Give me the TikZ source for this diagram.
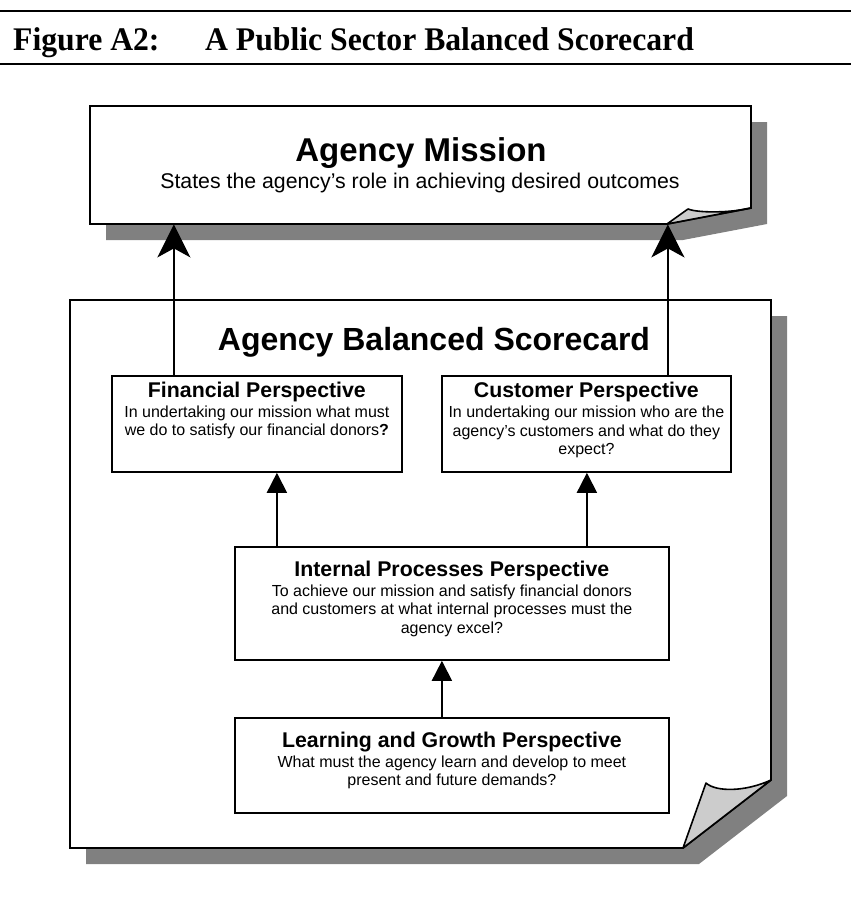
\documentclass[tikz,border=0pt]{standalone}
\usepackage{fontspec}
\setmainfont{Liberation Sans}
\newfontfamily\captionserif[FakeStretch=0.96]{Liberation Serif}
\usetikzlibrary{arrows.meta,positioning}

\definecolor{shadowgray}{HTML}{808080}
\definecolor{flapgray}{HTML}{CCCCCC}

\newcommand{\persptext}[2]{\leftskip=0pt plus 1fil \rightskip=0pt plus 1fil \parfillskip=0pt \spaceskip=0pt \xspaceskip=0pt
	{\bfseries\fontsize{21.3}{24}\selectfont #1\par}\vspace{1.5pt}{\fontsize{16}{18.5}\selectfont #2\par}}

\begin{document}
\begin{tikzpicture}[x=1pt, y=-1pt]
	\tikzstyle{sheet} = [draw=black, fill=white, line width=1.8pt, line join=miter]
	\tikzstyle{shade} = [fill=shadowgray]
	\tikzstyle{flap} = [draw=black, fill=flapgray, line width=1.6pt, line join=round]
	\tikzstyle{perspbox} = [rectangle, draw=black, fill=white, line width=1.8pt, inner sep=0pt, anchor=north west]
	\tikzstyle{persptxt} = [text width=420pt, align=center, inner sep=0pt, anchor=north]
	\tikzstyle{area} = [rectangle, inner sep=0pt, anchor=north west]
	\tikzstyle{bigarrow} = [line width=1.8pt, -{Stealth[length=33pt, width=33pt, inset=9pt]}]
	\tikzstyle{arrow} = [line width=1.8pt, -{Triangle[length=20pt, width=20pt]}]
	
	\useasboundingbox (0,0) rectangle (851,905);
	
	% caption
	\draw[line width=2pt] (0,11) -- (851,11);
	\draw[line width=2pt] (0,64) -- (851,64);
	\node (fignum) [anchor=base west, inner sep=0pt, font=\captionserif\bfseries\fontsize{33}{40}\selectfont] at (13,50) {Figure A2:};
	\node (figtitle) [anchor=base west, inner sep=0pt, font=\captionserif\bfseries\fontsize{33}{40}\selectfont] at (205,50) {A Public Sector Balanced Scorecard};
	
	% shadows
	\fill[shade] (106,122) -- (767,122) -- (767,224) -- (683,240) -- (106,240) -- cycle;
	\fill[shade] (86,316) -- (787,316) -- (787,796) -- (699,864) -- (86,864) -- cycle;
	
	% scorecard sheet
	\draw[sheet] (70,300) -- (771,300) -- (771,780) -- (683,848) -- (70,848) -- cycle;
	\draw[flap] (683,848) -- (706,783) .. controls (716,792) and (745,792) .. (771,780) -- cycle;
	\node (scorecard) [area, minimum width=701pt, minimum height=548pt] at (70,300) {};
	\node (scoretitle) [anchor=base, inner sep=0pt, font=\bfseries\fontsize{32}{40}\selectfont] at (434,350) {Agency Balanced Scorecard};
	
	% mission sheet
	\draw[sheet] (90,106) -- (751,106) -- (751,208) -- (667,224) -- (90,224) -- cycle;
	\draw[flap] (667,224) -- (688,209) .. controls (698,213) and (730,213) .. (751,208) -- cycle;
	\node (mission) [area, minimum width=661pt, minimum height=118pt] at (90,106) {};
	\node (missiontitle) [anchor=base, inner sep=0pt, font=\bfseries\fontsize{33}{40}\selectfont] at (421,161) {Agency Mission};
	\node (missiontext) [anchor=base, inner sep=0pt, font=\fontsize{21.3}{26}\selectfont] at (420,188) {States the agency's role in achieving desired outcomes};
	
	% perspectives
	\node (fin) [perspbox, minimum width=290pt, minimum height=96pt] at (111,375) {};
	\node (cust) [perspbox, minimum width=289pt, minimum height=96pt] at (441,375) {};
	\node (intern) [perspbox, minimum width=434pt, minimum height=113pt] at (234,546) {};
	\node (learn) [perspbox, minimum width=434pt, minimum height=95pt] at (234,717) {};
	
	\node (fintxt) [persptxt, below=6.7pt of fin.north] {\persptext{Financial Perspective}{In undertaking our mission what must\\we do to satisfy our financial donors\textbf{?}}};
	\node (custtxt) [persptxt, below=7pt of cust.north] {\persptext{Customer Perspective}{In undertaking our mission who are the\\agency's customers and what do they\\expect?}};
	\node (interntxt) [persptxt, below=14.7pt of intern.north] {\persptext{Internal Processes Perspective}{To achieve our mission and satisfy financial donors\\and customers at what internal processes must the\\agency excel?}};
	\node (learntxt) [persptxt, below=14.7pt of learn.north] {\persptext{Learning and Growth Perspective}{What must the agency learn and develop to meet\\present and future demands?}};
	
	\draw[arrow] ([xshift=-10pt]learn.north) -- ([xshift=-10pt]intern.south);
	\draw[arrow] ([xshift=-175pt]intern.north) -- ([xshift=-175pt]intern.north |- fin.south);
	\draw[arrow] ([xshift=0.5pt]intern.north -| cust.south) -- ([xshift=0.5pt]cust.south);
	\draw[bigarrow] ([xshift=-83pt]fin.north) -- ([xshift=-83pt]fin.north |- mission.south);
	\draw[bigarrow] ([xshift=81.5pt]cust.north) -- ([xshift=81.5pt]cust.north |- mission.south);
\end{tikzpicture}
\end{document}
